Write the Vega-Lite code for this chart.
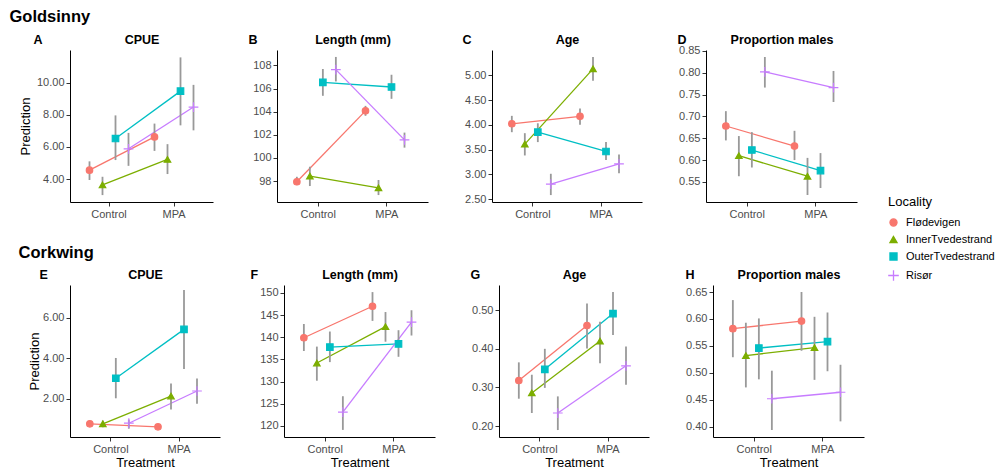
{
"$schema":"https://vega.github.io/schema/vega-lite/v6.json",
"background":"white",
"padding":{"left":9,"top":8,"right":2,"bottom":2},
"config":{
 "font":"Liberation Sans",
 "view":{"stroke":null},
 "axis":{"domainColor":"#000000","domainWidth":1,"tickColor":"#333333","tickSize":4,"labelColor":"#4d4d4d","labelFontSize":11,"labelFont":"Liberation Sans","titleFont":"Liberation Sans","titleFontSize":13,"titleFontWeight":"normal","titleColor":"#000000","grid":false,"labelPadding":2,"titlePadding":4,"minExtent":0},
 "title":{"font":"Liberation Sans","color":"#000000"},
 "legend":{"titleFont":"Liberation Sans","titleFontSize":13,"titleFontWeight":"normal","titleColor":"#000000","labelFont":"Liberation Sans","labelFontSize":11,"labelColor":"#000000","symbolSize":50,"symbolStrokeWidth":1.3,"rowPadding":4,"titlePadding":8,"labelOffset":7}
},
"datasets":{"d":[
{"species":"Goldsinny","measure":"CPUE","treatment":"Control","locality":"Flødevigen","value":4.55,"lo":3.94,"hi":5.1},
{"species":"Goldsinny","measure":"CPUE","treatment":"MPA","locality":"Flødevigen","value":6.62,"lo":5.75,"hi":7.45},
{"species":"Goldsinny","measure":"CPUE","treatment":"Control","locality":"InnerTvedestrand","value":3.63,"lo":3.0,"hi":4.14},
{"species":"Goldsinny","measure":"CPUE","treatment":"MPA","locality":"InnerTvedestrand","value":5.22,"lo":4.31,"hi":6.17},
{"species":"Goldsinny","measure":"CPUE","treatment":"Control","locality":"OuterTvedestrand","value":6.52,"lo":5.18,"hi":7.96},
{"species":"Goldsinny","measure":"CPUE","treatment":"MPA","locality":"OuterTvedestrand","value":9.47,"lo":7.34,"hi":11.57},
{"species":"Goldsinny","measure":"CPUE","treatment":"Control","locality":"Risør","value":5.88,"lo":4.82,"hi":6.87},
{"species":"Goldsinny","measure":"CPUE","treatment":"MPA","locality":"Risør","value":8.48,"lo":7.03,"hi":9.86},
{"species":"Goldsinny","measure":"Length (mm)","treatment":"Control","locality":"Flødevigen","value":97.94,"lo":97.65,"hi":98.37},
{"species":"Goldsinny","measure":"Length (mm)","treatment":"MPA","locality":"Flødevigen","value":104.07,"lo":103.64,"hi":104.5},
{"species":"Goldsinny","measure":"Length (mm)","treatment":"Control","locality":"InnerTvedestrand","value":98.43,"lo":97.57,"hi":99.24},
{"species":"Goldsinny","measure":"Length (mm)","treatment":"MPA","locality":"InnerTvedestrand","value":97.42,"lo":96.79,"hi":98.09},
{"species":"Goldsinny","measure":"Length (mm)","treatment":"Control","locality":"OuterTvedestrand","value":106.53,"lo":105.37,"hi":107.69},
{"species":"Goldsinny","measure":"Length (mm)","treatment":"MPA","locality":"OuterTvedestrand","value":106.13,"lo":105.11,"hi":107.19},
{"species":"Goldsinny","measure":"Length (mm)","treatment":"Control","locality":"Risør","value":107.63,"lo":106.61,"hi":108.73},
{"species":"Goldsinny","measure":"Length (mm)","treatment":"MPA","locality":"Risør","value":101.56,"lo":100.89,"hi":102.19},
{"species":"Goldsinny","measure":"Age","treatment":"Control","locality":"Flødevigen","value":4.02,"lo":3.85,"hi":4.18},
{"species":"Goldsinny","measure":"Age","treatment":"MPA","locality":"Flødevigen","value":4.17,"lo":4.0,"hi":4.33},
{"species":"Goldsinny","measure":"Age","treatment":"Control","locality":"InnerTvedestrand","value":3.61,"lo":3.38,"hi":3.83},
{"species":"Goldsinny","measure":"Age","treatment":"MPA","locality":"InnerTvedestrand","value":5.13,"lo":4.89,"hi":5.37},
{"species":"Goldsinny","measure":"Age","treatment":"Control","locality":"OuterTvedestrand","value":3.85,"lo":3.65,"hi":4.03},
{"species":"Goldsinny","measure":"Age","treatment":"MPA","locality":"OuterTvedestrand","value":3.46,"lo":3.29,"hi":3.65},
{"species":"Goldsinny","measure":"Age","treatment":"Control","locality":"Risør","value":2.8,"lo":2.58,"hi":3.01},
{"species":"Goldsinny","measure":"Age","treatment":"MPA","locality":"Risør","value":3.21,"lo":3.02,"hi":3.4},
{"species":"Goldsinny","measure":"Proportion males","treatment":"Control","locality":"Flødevigen","value":0.678,"lo":0.645,"hi":0.712},
{"species":"Goldsinny","measure":"Proportion males","treatment":"MPA","locality":"Flødevigen","value":0.632,"lo":0.6,"hi":0.667},
{"species":"Goldsinny","measure":"Proportion males","treatment":"Control","locality":"InnerTvedestrand","value":0.61,"lo":0.563,"hi":0.655},
{"species":"Goldsinny","measure":"Proportion males","treatment":"MPA","locality":"InnerTvedestrand","value":0.563,"lo":0.52,"hi":0.605},
{"species":"Goldsinny","measure":"Proportion males","treatment":"Control","locality":"OuterTvedestrand","value":0.623,"lo":0.583,"hi":0.664},
{"species":"Goldsinny","measure":"Proportion males","treatment":"MPA","locality":"OuterTvedestrand","value":0.576,"lo":0.536,"hi":0.616},
{"species":"Goldsinny","measure":"Proportion males","treatment":"Control","locality":"Risør","value":0.802,"lo":0.766,"hi":0.836},
{"species":"Goldsinny","measure":"Proportion males","treatment":"MPA","locality":"Risør","value":0.766,"lo":0.733,"hi":0.804},
{"species":"Corkwing","measure":"CPUE","treatment":"Control","locality":"Flødevigen","value":0.76,"lo":0.68,"hi":0.84},
{"species":"Corkwing","measure":"CPUE","treatment":"MPA","locality":"Flødevigen","value":0.61,"lo":0.54,"hi":0.69},
{"species":"Corkwing","measure":"CPUE","treatment":"Control","locality":"InnerTvedestrand","value":0.76,"lo":0.59,"hi":0.92},
{"species":"Corkwing","measure":"CPUE","treatment":"MPA","locality":"InnerTvedestrand","value":2.13,"lo":1.47,"hi":2.75},
{"species":"Corkwing","measure":"CPUE","treatment":"Control","locality":"OuterTvedestrand","value":3.01,"lo":2.02,"hi":4.01},
{"species":"Corkwing","measure":"CPUE","treatment":"MPA","locality":"OuterTvedestrand","value":5.42,"lo":3.46,"hi":7.36},
{"species":"Corkwing","measure":"CPUE","treatment":"Control","locality":"Risør","value":0.79,"lo":0.52,"hi":0.97},
{"species":"Corkwing","measure":"CPUE","treatment":"MPA","locality":"Risør","value":2.38,"lo":1.75,"hi":3.0},
{"species":"Corkwing","measure":"Length (mm)","treatment":"Control","locality":"Flødevigen","value":139.9,"lo":136.9,"hi":143.0},
{"species":"Corkwing","measure":"Length (mm)","treatment":"MPA","locality":"Flødevigen","value":147.0,"lo":143.7,"hi":150.2},
{"species":"Corkwing","measure":"Length (mm)","treatment":"Control","locality":"InnerTvedestrand","value":134.2,"lo":130.2,"hi":137.9},
{"species":"Corkwing","measure":"Length (mm)","treatment":"MPA","locality":"InnerTvedestrand","value":142.4,"lo":139.0,"hi":145.7},
{"species":"Corkwing","measure":"Length (mm)","treatment":"Control","locality":"OuterTvedestrand","value":137.8,"lo":134.4,"hi":141.3},
{"species":"Corkwing","measure":"Length (mm)","treatment":"MPA","locality":"OuterTvedestrand","value":138.5,"lo":135.6,"hi":141.6},
{"species":"Corkwing","measure":"Length (mm)","treatment":"Control","locality":"Risør","value":123.1,"lo":119.1,"hi":126.7},
{"species":"Corkwing","measure":"Length (mm)","treatment":"MPA","locality":"Risør","value":143.4,"lo":140.4,"hi":146.1},
{"species":"Corkwing","measure":"Age","treatment":"Control","locality":"Flødevigen","value":0.318,"lo":0.271,"hi":0.365},
{"species":"Corkwing","measure":"Age","treatment":"MPA","locality":"Flødevigen","value":0.46,"lo":0.401,"hi":0.517},
{"species":"Corkwing","measure":"Age","treatment":"Control","locality":"InnerTvedestrand","value":0.286,"lo":0.234,"hi":0.333},
{"species":"Corkwing","measure":"Age","treatment":"MPA","locality":"InnerTvedestrand","value":0.42,"lo":0.363,"hi":0.47},
{"species":"Corkwing","measure":"Age","treatment":"Control","locality":"OuterTvedestrand","value":0.347,"lo":0.299,"hi":0.4},
{"species":"Corkwing","measure":"Age","treatment":"MPA","locality":"OuterTvedestrand","value":0.491,"lo":0.436,"hi":0.547},
{"species":"Corkwing","measure":"Age","treatment":"Control","locality":"Risør","value":0.234,"lo":0.19,"hi":0.277},
{"species":"Corkwing","measure":"Age","treatment":"MPA","locality":"Risør","value":0.356,"lo":0.307,"hi":0.406},
{"species":"Corkwing","measure":"Proportion males","treatment":"Control","locality":"Flødevigen","value":0.582,"lo":0.529,"hi":0.635},
{"species":"Corkwing","measure":"Proportion males","treatment":"MPA","locality":"Flødevigen","value":0.596,"lo":0.541,"hi":0.65},
{"species":"Corkwing","measure":"Proportion males","treatment":"Control","locality":"InnerTvedestrand","value":0.532,"lo":0.473,"hi":0.593},
{"species":"Corkwing","measure":"Proportion males","treatment":"MPA","locality":"InnerTvedestrand","value":0.547,"lo":0.487,"hi":0.604},
{"species":"Corkwing","measure":"Proportion males","treatment":"Control","locality":"OuterTvedestrand","value":0.546,"lo":0.488,"hi":0.601},
{"species":"Corkwing","measure":"Proportion males","treatment":"MPA","locality":"OuterTvedestrand","value":0.558,"lo":0.503,"hi":0.612},
{"species":"Corkwing","measure":"Proportion males","treatment":"Control","locality":"Risør","value":0.452,"lo":0.394,"hi":0.504},
{"species":"Corkwing","measure":"Proportion males","treatment":"MPA","locality":"Risør","value":0.464,"lo":0.41,"hi":0.515}
]},
"data":{"name":"d"},
"spacing":25,
"vconcat":[
{"title":{"text":"Goldsinny","anchor":"start","frame":"bounds","fontSize":16.5,"fontWeight":"bold","dx":-10,"offset":-8,"baseline":"bottom"},
 "spacing":64,
 "bounds":"flush",
 "hconcat":[
  {"width":143,"height":152,
   "transform":[{"filter":{"and":[{"field":"species","equal":"Goldsinny"},{"field":"measure","equal":"CPUE"}]}}],
   "resolve":{"axis":{"x":"independent","y":"independent"}},
   "encoding":{"xOffset":{"field":"locality","type":"nominal","scale":{"type":"point","padding":2.667,"domain":["Flødevigen","InnerTvedestrand","OuterTvedestrand","Risør"]}}},
   "layer":[
    {"mark":{"type":"line","strokeWidth":1.3},"encoding":{
      "x":{"field":"treatment","type":"nominal","scale":{"type":"band","domain":["Control","MPA"],"paddingInner":0,"paddingOuter":0.1},"axis":{"title":null,"labelAngle":0}},
      "y":{"field":"value","type":"quantitative","scale":{"domain":[2.57,12.03],"nice":false,"zero":false},"axis":{"title":"Prediction","values":[4,6,8,10],"format":".2f"}},
      "color":{"field":"locality","type":"nominal","scale":{"domain":["Flødevigen","InnerTvedestrand","OuterTvedestrand","Risør"],"range":["#F8766D","#7CAE00","#00BFC4","#C77CFF"]},"legend":{"title":"Locality","orient":"none","legendX":818,"legendY":146,"encode":{"symbols":{"update":{"stroke":{"scale":"color","field":"value"}}}}}}}},
    {"mark":{"type":"rule","color":"#999999","strokeWidth":1.8},"encoding":{
      "x":{"field":"treatment","type":"nominal","axis":{"orient":"top","title":"CPUE","labels":false,"ticks":false,"domain":false,"titleFontWeight":"bold","titleFontSize":12.5,"titlePadding":4}},
      "y":{"field":"lo","type":"quantitative","axis":{"orient":"right","title":"A","labels":false,"ticks":false,"domain":false,"titleAngle":0,"titleX":-180,"titleY":-7,"titleAlign":"left","titleBaseline":"alphabetic","titleFontWeight":"bold","titleFontSize":12.5}},"y2":{"field":"hi"}}},
    {"mark":{"type":"point","filled":true,"opacity":1,"size":42,"strokeWidth":1.2},"encoding":{
      "x":{"field":"treatment","type":"nominal","axis":null},
      "y":{"field":"value","type":"quantitative","axis":null},
      "color":{"field":"locality","type":"nominal"},
      "stroke":{"field":"locality","type":"nominal","scale":{"domain":["Flødevigen","InnerTvedestrand","OuterTvedestrand","Risør"],"range":["#F8766D","#7CAE00","#00BFC4","#C77CFF"]},"legend":null},
      "shape":{"field":"locality","type":"nominal","scale":{"domain":["Flødevigen","InnerTvedestrand","OuterTvedestrand","Risør"],"range":["circle","triangle-up","square","M-1.5,0H1.5M0,-1.5V1.5"]}}}}
   ]},
  {"width":151,"height":152,
   "transform":[{"filter":{"and":[{"field":"species","equal":"Goldsinny"},{"field":"measure","equal":"Length (mm)"}]}}],
   "resolve":{"axis":{"x":"independent","y":"independent"}},
   "encoding":{"xOffset":{"field":"locality","type":"nominal","scale":{"type":"point","padding":2.667,"domain":["Flødevigen","InnerTvedestrand","OuterTvedestrand","Risør"]}}},
   "layer":[
    {"mark":{"type":"line","strokeWidth":1.3},"encoding":{
      "x":{"field":"treatment","type":"nominal","scale":{"type":"band","domain":["Control","MPA"],"paddingInner":0,"paddingOuter":0.1},"axis":{"title":null,"labelAngle":0}},
      "y":{"field":"value","type":"quantitative","scale":{"domain":[96.19,109.33],"nice":false,"zero":false},"axis":{"title":null,"values":[98,100,102,104,106,108],"format":"d"}},
      "color":{"field":"locality","type":"nominal"}}},
    {"mark":{"type":"rule","color":"#999999","strokeWidth":1.8},"encoding":{
      "x":{"field":"treatment","type":"nominal","axis":{"orient":"top","title":"Length (mm)","labels":false,"ticks":false,"domain":false,"titleFontWeight":"bold","titleFontSize":12.5,"titlePadding":4}},
      "y":{"field":"lo","type":"quantitative","axis":{"orient":"right","title":"B","labels":false,"ticks":false,"domain":false,"titleAngle":0,"titleX":-180,"titleY":-7,"titleAlign":"left","titleBaseline":"alphabetic","titleFontWeight":"bold","titleFontSize":12.5}},"y2":{"field":"hi"}}},
    {"mark":{"type":"point","filled":true,"opacity":1,"size":42,"strokeWidth":1.2},"encoding":{
      "x":{"field":"treatment","type":"nominal","axis":null},
      "y":{"field":"value","type":"quantitative","axis":null},
      "color":{"field":"locality","type":"nominal"},
      "stroke":{"field":"locality","type":"nominal","legend":null},
      "shape":{"field":"locality","type":"nominal"}}}
   ]},
  {"width":150,"height":152,
   "transform":[{"filter":{"and":[{"field":"species","equal":"Goldsinny"},{"field":"measure","equal":"Age"}]}}],
   "resolve":{"axis":{"x":"independent","y":"independent"}},
   "encoding":{"xOffset":{"field":"locality","type":"nominal","scale":{"type":"point","padding":2.667,"domain":["Flødevigen","InnerTvedestrand","OuterTvedestrand","Risør"]}}},
   "layer":[
    {"mark":{"type":"line","strokeWidth":1.3},"encoding":{
      "x":{"field":"treatment","type":"nominal","scale":{"type":"band","domain":["Control","MPA"],"paddingInner":0,"paddingOuter":0.1},"axis":{"title":null,"labelAngle":0}},
      "y":{"field":"value","type":"quantitative","scale":{"domain":[2.44,5.51],"nice":false,"zero":false},"axis":{"title":null,"values":[2.5,3,3.5,4,4.5,5],"format":".2f"}},
      "color":{"field":"locality","type":"nominal"}}},
    {"mark":{"type":"rule","color":"#999999","strokeWidth":1.8},"encoding":{
      "x":{"field":"treatment","type":"nominal","axis":{"orient":"top","title":"Age","labels":false,"ticks":false,"domain":false,"titleFontWeight":"bold","titleFontSize":12.5,"titlePadding":4}},
      "y":{"field":"lo","type":"quantitative","axis":{"orient":"right","title":"C","labels":false,"ticks":false,"domain":false,"titleAngle":0,"titleX":-180,"titleY":-7,"titleAlign":"left","titleBaseline":"alphabetic","titleFontWeight":"bold","titleFontSize":12.5}},"y2":{"field":"hi"}}},
    {"mark":{"type":"point","filled":true,"opacity":1,"size":42,"strokeWidth":1.2},"encoding":{
      "x":{"field":"treatment","type":"nominal","axis":null},
      "y":{"field":"value","type":"quantitative","axis":null},
      "color":{"field":"locality","type":"nominal"},
      "stroke":{"field":"locality","type":"nominal","legend":null},
      "shape":{"field":"locality","type":"nominal"}}}
   ]},
  {"width":151,"height":152,
   "transform":[{"filter":{"and":[{"field":"species","equal":"Goldsinny"},{"field":"measure","equal":"Proportion males"}]}}],
   "resolve":{"axis":{"x":"independent","y":"independent"}},
   "encoding":{"xOffset":{"field":"locality","type":"nominal","scale":{"type":"point","padding":2.667,"domain":["Flødevigen","InnerTvedestrand","OuterTvedestrand","Risør"]}}},
   "layer":[
    {"mark":{"type":"line","strokeWidth":1.3},"encoding":{
      "x":{"field":"treatment","type":"nominal","scale":{"type":"band","domain":["Control","MPA"],"paddingInner":0,"paddingOuter":0.1},"axis":{"title":null,"labelAngle":0}},
      "y":{"field":"value","type":"quantitative","scale":{"domain":[0.504,0.852],"nice":false,"zero":false},"axis":{"title":null,"values":[0.55,0.6,0.65,0.7,0.75,0.8,0.85],"format":".2f"}},
      "color":{"field":"locality","type":"nominal"}}},
    {"mark":{"type":"rule","color":"#999999","strokeWidth":1.8},"encoding":{
      "x":{"field":"treatment","type":"nominal","axis":{"orient":"top","title":"Proportion males","labels":false,"ticks":false,"domain":false,"titleFontWeight":"bold","titleFontSize":12.5,"titlePadding":4}},
      "y":{"field":"lo","type":"quantitative","axis":{"orient":"right","title":"D","labels":false,"ticks":false,"domain":false,"titleAngle":0,"titleX":-180,"titleY":-7,"titleAlign":"left","titleBaseline":"alphabetic","titleFontWeight":"bold","titleFontSize":12.5}},"y2":{"field":"hi"}}},
    {"mark":{"type":"point","filled":true,"opacity":1,"size":42,"strokeWidth":1.2},"encoding":{
      "x":{"field":"treatment","type":"nominal","axis":null},
      "y":{"field":"value","type":"quantitative","axis":null},
      "color":{"field":"locality","type":"nominal"},
      "stroke":{"field":"locality","type":"nominal","legend":null},
      "shape":{"field":"locality","type":"nominal"}}}
   ]}
 ]},
{"title":{"text":"Corkwing","anchor":"start","frame":"bounds","fontSize":16.5,"fontWeight":"bold","dx":-10,"offset":-9,"baseline":"bottom"},
 "spacing":64,
 "bounds":"flush",
 "hconcat":[
  {"width":150,"height":152,
   "transform":[{"filter":{"and":[{"field":"species","equal":"Corkwing"},{"field":"measure","equal":"CPUE"}]}}],
   "resolve":{"axis":{"x":"independent","y":"independent"}},
   "encoding":{"xOffset":{"field":"locality","type":"nominal","scale":{"type":"point","padding":2.667,"domain":["Flødevigen","InnerTvedestrand","OuterTvedestrand","Risør"]}}},
   "layer":[
    {"mark":{"type":"line","strokeWidth":1.3},"encoding":{
      "x":{"field":"treatment","type":"nominal","scale":{"type":"band","domain":["Control","MPA"],"paddingInner":0,"paddingOuter":0.1},"axis":{"title":"Treatment","labelAngle":0,"titlePadding":2}},
      "y":{"field":"value","type":"quantitative","scale":{"domain":[0.11,7.61],"nice":false,"zero":false},"axis":{"title":"Prediction","values":[2,4,6],"format":".2f","titlePadding":1}},
      "color":{"field":"locality","type":"nominal"}}},
    {"mark":{"type":"rule","color":"#999999","strokeWidth":1.8},"encoding":{
      "x":{"field":"treatment","type":"nominal","axis":{"orient":"top","title":"CPUE","labels":false,"ticks":false,"domain":false,"titleFontWeight":"bold","titleFontSize":12.5,"titlePadding":4}},
      "y":{"field":"lo","type":"quantitative","axis":{"orient":"right","title":"E","labels":false,"ticks":false,"domain":false,"titleAngle":0,"titleX":-181,"titleY":-7,"titleAlign":"left","titleBaseline":"alphabetic","titleFontWeight":"bold","titleFontSize":12.5}},"y2":{"field":"hi"}}},
    {"mark":{"type":"point","filled":true,"opacity":1,"size":42,"strokeWidth":1.2},"encoding":{
      "x":{"field":"treatment","type":"nominal","axis":null},
      "y":{"field":"value","type":"quantitative","axis":null},
      "color":{"field":"locality","type":"nominal"},
      "stroke":{"field":"locality","type":"nominal","legend":null},
      "shape":{"field":"locality","type":"nominal"}}}
   ]},
  {"width":151,"height":152,
   "transform":[{"filter":{"and":[{"field":"species","equal":"Corkwing"},{"field":"measure","equal":"Length (mm)"}]}}],
   "resolve":{"axis":{"x":"independent","y":"independent"}},
   "encoding":{"xOffset":{"field":"locality","type":"nominal","scale":{"type":"point","padding":2.667,"domain":["Flødevigen","InnerTvedestrand","OuterTvedestrand","Risør"]}}},
   "layer":[
    {"mark":{"type":"line","strokeWidth":1.3},"encoding":{
      "x":{"field":"treatment","type":"nominal","scale":{"type":"band","domain":["Control","MPA"],"paddingInner":0,"paddingOuter":0.1},"axis":{"title":"Treatment","labelAngle":0,"titlePadding":2}},
      "y":{"field":"value","type":"quantitative","scale":{"domain":[117.5,151.8],"nice":false,"zero":false},"axis":{"title":null,"values":[120,125,130,135,140,145,150],"format":"d"}},
      "color":{"field":"locality","type":"nominal"}}},
    {"mark":{"type":"rule","color":"#999999","strokeWidth":1.8},"encoding":{
      "x":{"field":"treatment","type":"nominal","axis":{"orient":"top","title":"Length (mm)","labels":false,"ticks":false,"domain":false,"titleFontWeight":"bold","titleFontSize":12.5,"titlePadding":4}},
      "y":{"field":"lo","type":"quantitative","axis":{"orient":"right","title":"F","labels":false,"ticks":false,"domain":false,"titleAngle":0,"titleX":-185,"titleY":-7,"titleAlign":"left","titleBaseline":"alphabetic","titleFontWeight":"bold","titleFontSize":12.5}},"y2":{"field":"hi"}}},
    {"mark":{"type":"point","filled":true,"opacity":1,"size":42,"strokeWidth":1.2},"encoding":{
      "x":{"field":"treatment","type":"nominal","axis":null},
      "y":{"field":"value","type":"quantitative","axis":null},
      "color":{"field":"locality","type":"nominal"},
      "stroke":{"field":"locality","type":"nominal","legend":null},
      "shape":{"field":"locality","type":"nominal"}}}
   ]},
  {"width":150,"height":152,
   "transform":[{"filter":{"and":[{"field":"species","equal":"Corkwing"},{"field":"measure","equal":"Age"}]}}],
   "resolve":{"axis":{"x":"independent","y":"independent"}},
   "encoding":{"xOffset":{"field":"locality","type":"nominal","scale":{"type":"point","padding":2.667,"domain":["Flødevigen","InnerTvedestrand","OuterTvedestrand","Risør"]}}},
   "layer":[
    {"mark":{"type":"line","strokeWidth":1.3},"encoding":{
      "x":{"field":"treatment","type":"nominal","scale":{"type":"band","domain":["Control","MPA"],"paddingInner":0,"paddingOuter":0.1},"axis":{"title":"Treatment","labelAngle":0,"titlePadding":2}},
      "y":{"field":"value","type":"quantitative","scale":{"domain":[0.172,0.565],"nice":false,"zero":false},"axis":{"title":null,"values":[0.2,0.3,0.4,0.5],"format":".2f"}},
      "color":{"field":"locality","type":"nominal"}}},
    {"mark":{"type":"rule","color":"#999999","strokeWidth":1.8},"encoding":{
      "x":{"field":"treatment","type":"nominal","axis":{"orient":"top","title":"Age","labels":false,"ticks":false,"domain":false,"titleFontWeight":"bold","titleFontSize":12.5,"titlePadding":4}},
      "y":{"field":"lo","type":"quantitative","axis":{"orient":"right","title":"G","labels":false,"ticks":false,"domain":false,"titleAngle":0,"titleX":-179,"titleY":-7,"titleAlign":"left","titleBaseline":"alphabetic","titleFontWeight":"bold","titleFontSize":12.5}},"y2":{"field":"hi"}}},
    {"mark":{"type":"point","filled":true,"opacity":1,"size":42,"strokeWidth":1.2},"encoding":{
      "x":{"field":"treatment","type":"nominal","axis":null},
      "y":{"field":"value","type":"quantitative","axis":null},
      "color":{"field":"locality","type":"nominal"},
      "stroke":{"field":"locality","type":"nominal","legend":null},
      "shape":{"field":"locality","type":"nominal"}}}
   ]},
  {"width":151,"height":152,
   "transform":[{"filter":{"and":[{"field":"species","equal":"Corkwing"},{"field":"measure","equal":"Proportion males"}]}}],
   "resolve":{"axis":{"x":"independent","y":"independent"}},
   "encoding":{"xOffset":{"field":"locality","type":"nominal","scale":{"type":"point","padding":2.667,"domain":["Flødevigen","InnerTvedestrand","OuterTvedestrand","Risør"]}}},
   "layer":[
    {"mark":{"type":"line","strokeWidth":1.3},"encoding":{
      "x":{"field":"treatment","type":"nominal","scale":{"type":"band","domain":["Control","MPA"],"paddingInner":0,"paddingOuter":0.1},"axis":{"title":"Treatment","labelAngle":0,"titlePadding":2}},
      "y":{"field":"value","type":"quantitative","scale":{"domain":[0.381,0.663],"nice":false,"zero":false},"axis":{"title":null,"values":[0.4,0.45,0.5,0.55,0.6,0.65],"format":".2f"}},
      "color":{"field":"locality","type":"nominal"}}},
    {"mark":{"type":"rule","color":"#999999","strokeWidth":1.8},"encoding":{
      "x":{"field":"treatment","type":"nominal","axis":{"orient":"top","title":"Proportion males","labels":false,"ticks":false,"domain":false,"titleFontWeight":"bold","titleFontSize":12.5,"titlePadding":4}},
      "y":{"field":"lo","type":"quantitative","axis":{"orient":"right","title":"H","labels":false,"ticks":false,"domain":false,"titleAngle":0,"titleX":-179,"titleY":-7,"titleAlign":"left","titleBaseline":"alphabetic","titleFontWeight":"bold","titleFontSize":12.5}},"y2":{"field":"hi"}}},
    {"mark":{"type":"point","filled":true,"opacity":1,"size":42,"strokeWidth":1.2},"encoding":{
      "x":{"field":"treatment","type":"nominal","axis":null},
      "y":{"field":"value","type":"quantitative","axis":null},
      "color":{"field":"locality","type":"nominal"},
      "stroke":{"field":"locality","type":"nominal","legend":null},
      "shape":{"field":"locality","type":"nominal"}}}
   ]}
 ]}
]
}
